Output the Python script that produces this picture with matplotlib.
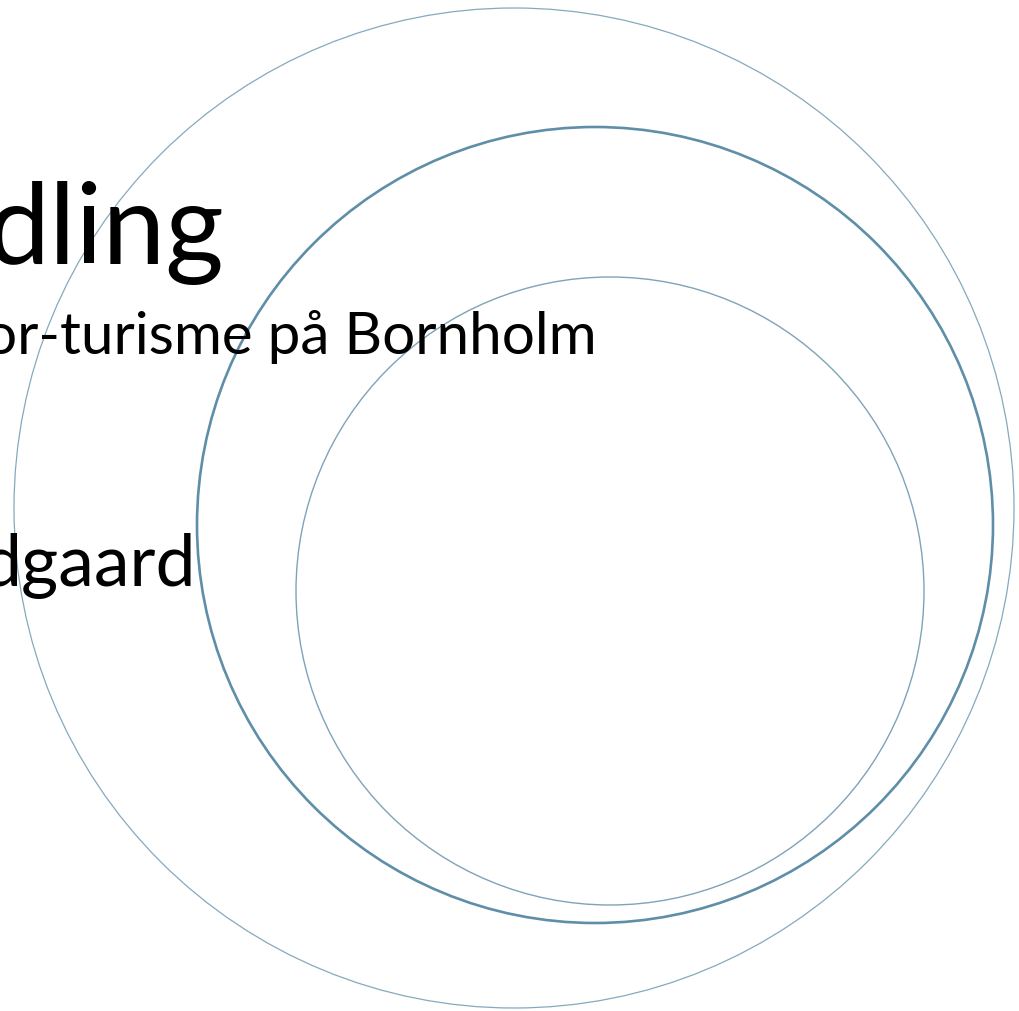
import matplotlib
matplotlib.use("Agg")
import matplotlib.pyplot as plt
from matplotlib.patches import Circle

W, H = 1020, 1011

# rings: centre x, centre y (pixels from top-left), radius, line width, colour
ring_cx = [514, 595, 610]
ring_cy = [508, 525, 591]
ring_r = [500, 398, 314]
ring_lw = [0.9, 1.9, 1.0]
ring_col = ["#86a9bd", "#5f8ea8", "#7fa3b8"]

# slide text fragments (cut off at the left edge of the crop)
texts = ["dling", "or-turisme på Bornholm", "dgaard"]
text_right = [224, 597, 196]
text_base = [264, 354, 586]
text_size = [81, 42, 51.5]

fig = plt.figure(figsize=(W / 100, H / 100), dpi=100)
ax = fig.add_axes([0, 0, 1, 1])
ax.set_xlim(0, W)
ax.set_ylim(H, 0)
ax.set_aspect("equal")
ax.axis("off")

for cx, cy, r, lw, c in zip(ring_cx, ring_cy, ring_r, ring_lw, ring_col):
    ax.add_patch(Circle((cx, cy), r, fill=False, edgecolor=c, linewidth=lw))

for t, x, y, s in zip(texts, text_right, text_base, text_size):
    ax.text(x, y, t, ha="right", va="baseline", fontsize=s,
            family=["Lato", "DejaVu Sans"], color="black")

fig.savefig("out.png", dpi=100, facecolor="white")
